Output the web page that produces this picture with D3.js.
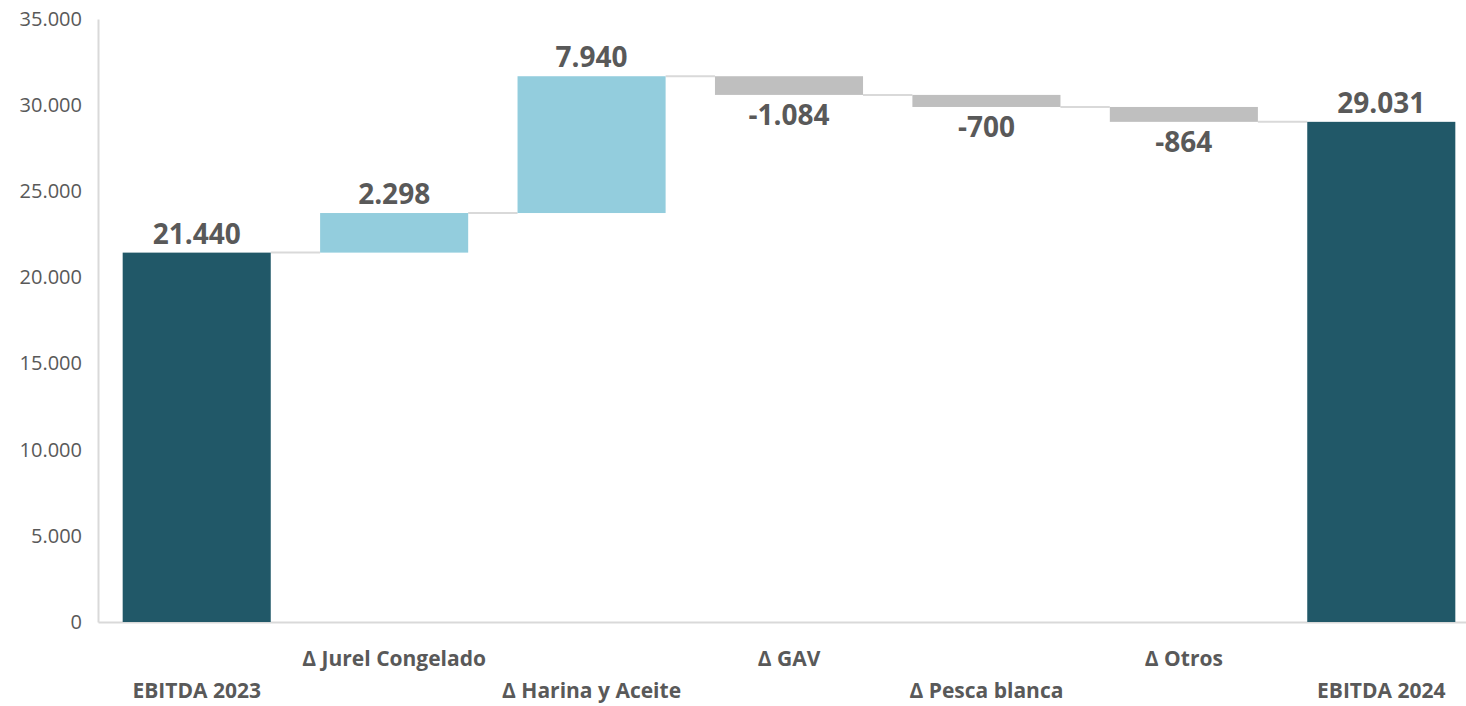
<!DOCTYPE html>
<html><head><meta charset="utf-8">
<script src="https://cdn.jsdelivr.net/npm/d3@7"></script>
<style>body{margin:0;background:#fff}svg{display:block}text{font-family:"Open Sans","Noto Sans",sans-serif}</style>
</head><body><svg id="c" width="1466" height="706"></svg>
<script>
const categories = ["EBITDA 2023","Δ Jurel Congelado","Δ Harina y Aceite","Δ GAV","Δ Pesca blanca","Δ Otros","EBITDA 2024"];
const values = [21440, 2298, 7940, -1084, -700, -864, 29031];
const kinds = ["total","delta","delta","delta","delta","delta","total"];
const valueLabels = ["21.440","2.298","7.940","-1.084","-700","-864","29.031"];
const yTicks = [0,5000,10000,15000,20000,25000,30000,35000];

const svg = d3.select("#c");
const x = d3.scaleBand().domain(categories).range([98,1480]).paddingInner(0.25).paddingOuter(0.125);
const y = d3.scaleLinear().domain([0,35000]).range([622,19]);

let run = 0;
const rows = categories.map((c,i)=>{
  let y0,y1;
  if(kinds[i]==="total"){ y0=0; y1=values[i]; run=values[i]; }
  else { y0=run; y1=run+values[i]; run=y1; }
  return {c,i,y0,y1,v:values[i],kind:kinds[i],end:kinds[i]==="total"?values[i]:y1};
});
const color = d=> d.kind==="total" ? "#215868" : (d.v>=0 ? "#93CDDD" : "#BFBFBF");

const fmt = d3.formatLocale({decimal:",",thousands:".",grouping:[3],currency:["",""]}).format(",");
const yAxis = svg.append("g").attr("transform","translate(98,0)")
  .call(d3.axisLeft(y).tickValues(yTicks).tickFormat(fmt).tickSize(0).tickPadding(16));
yAxis.select(".domain").attr("stroke","#d9d9d9").attr("stroke-width",2);
yAxis.selectAll("text").attr("fill","#595959").style("font-size","20px");

const xAxis = svg.append("g").attr("transform","translate(0,622)")
  .call(d3.axisBottom(x).tickSize(0).tickFormat(""));
xAxis.select(".domain").attr("stroke","#d9d9d9").attr("stroke-width",2);

rows.slice(0,-1).forEach((d,i)=>{
  const nx = rows[i+1];
  svg.append("line")
    .attr("x1",x(d.c)+x.bandwidth()).attr("x2",x(nx.c))
    .attr("y1",y(d.end)).attr("y2",y(d.end))
    .attr("stroke","#d9d9d9").attr("stroke-width",2);
});

svg.selectAll("rect.bar").data(rows).join("rect").attr("class","bar")
  .attr("x",d=>x(d.c)).attr("width",x.bandwidth())
  .attr("y",d=>y(Math.max(d.y0,d.y1)))
  .attr("height",d=>Math.abs(y(d.y0)-y(d.y1)))
  .attr("fill",color);

svg.selectAll("text.val").data(rows).join("text").attr("class","val")
  .attr("x",d=>x(d.c)+x.bandwidth()/2)
  .attr("y",d=> d.v>=0 ? y(Math.max(d.y0,d.y1))-9 : y(Math.min(d.y0,d.y1))+30)
  .attr("text-anchor","middle").attr("fill","#595959")
  .style("font-size","28px").style("font-weight","700")
  .text((d,i)=>valueLabels[i]);

svg.selectAll("text.cat").data(rows).join("text").attr("class","cat")
  .attr("x",d=>x(d.c)+x.bandwidth()/2)
  .attr("y",(d,i)=> i%2===1 ? 666 : 698)
  .attr("text-anchor","middle").attr("fill","#595959")
  .style("font-size","21px").style("font-weight","700")
  .text(d=>d.c);
</script></body></html>
